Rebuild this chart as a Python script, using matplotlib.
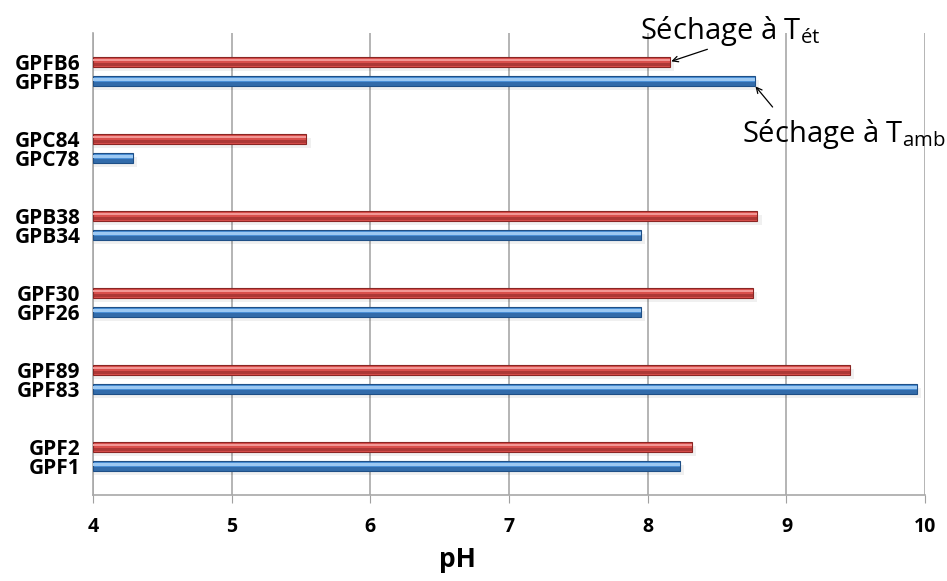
import numpy as np
import matplotlib.pyplot as plt

# Data: pairs bottom-to-top, blue = Tamb, red = Tét
blue_labels = ["GPF1", "GPF83", "GPF26", "GPB34", "GPC78", "GPFB5"]
red_labels = ["GPF2", "GPF89", "GPF30", "GPB38", "GPC84", "GPFB6"]
ph_amb = [8.23, 9.94, 7.95, 7.95, 4.29, 8.77]
ph_et = [8.32, 9.46, 8.76, 8.79, 5.54, 8.16]

plt.rcParams['font.family'] = ['Open Sans', 'DejaVu Sans']
plt.rcParams['mathtext.fontset'] = 'custom'
plt.rcParams['mathtext.rm'] = 'Open Sans'

fig = plt.figure(figsize=(9.47, 5.81), dpi=100)
ax = fig.add_axes([0.098, 0.148, 0.879, 0.795])

y = np.arange(len(blue_labels))
off = 0.128
h = 0.13
left = 4

def fancy_bars(ypos, vals, base, dark, light):
    w = np.array(vals) - left
    # soft shadow
    ax.barh(ypos - 0.05, w + 0.03, height=h, left=left, color='#000000',
            alpha=0.06, zorder=2, linewidth=0)
    ax.barh(ypos, w, height=h, left=left, color=base, edgecolor=dark,
            linewidth=0.8, zorder=3)
    ax.barh(ypos - h * 0.28, w, height=h * 0.38, left=left, color=dark,
            alpha=0.55, zorder=4, linewidth=0)
    ax.barh(ypos + h * 0.18, w, height=h * 0.25, left=left, color=light,
            zorder=4, linewidth=0)

fancy_bars(y - off, ph_amb, '#4a8fd6', '#1f4f86', '#9cc8f2')
fancy_bars(y + off, ph_et, '#d94f4c', '#8a2624', '#f29795')

ax.set_xlim(4, 10)
ax.set_ylim(-0.5, 5.5)

ax.set_yticks(np.concatenate([y - off, y + off]))
ax.set_yticklabels(blue_labels + red_labels, fontsize=15, fontweight='bold')
ax.tick_params(axis='y', length=0, pad=9)

ax.set_xticks(range(4, 11))
ax.tick_params(axis='x', length=6, color='#a0a0a0', labelsize=14, pad=10)
for t in ax.get_xticklabels():
    t.set_fontweight('bold')
ax.set_xlabel('pH', fontsize=19, fontweight='bold', labelpad=6, x=0.4375)

ax.grid(axis='x', color='#a8a8a8', linewidth=1.2, zorder=0)
ax.set_axisbelow(True)
for s in ['top', 'right']:
    ax.spines[s].set_visible(False)
for s in ['left', 'bottom']:
    ax.spines[s].set_color('#a8a8a8')
    ax.spines[s].set_linewidth(1.2)

# annotations
ax.annotate('', xy=(ph_et[5], y[5] + off), xytext=(8.43, 5.29),
            arrowprops=dict(arrowstyle='->', color='black', lw=0.9,
                            shrinkA=0, shrinkB=1), annotation_clip=False)
ax.annotate('', xy=(ph_amb[5], y[5] - off - 0.05), xytext=(8.90, 4.54),
            arrowprops=dict(arrowstyle='->', color='black', lw=0.9,
                            shrinkA=0, shrinkB=1), annotation_clip=False)
ax.text(7.945, 5.42, 'Séchage à T$_{\\mathrm{ét}}$', fontsize=21,
        va='baseline', ha='left', clip_on=False)
ax.text(8.68, 4.085, 'Séchage à T$_{\\mathrm{amb}}$', fontsize=21,
        va='baseline', ha='left', clip_on=False)

fig.savefig('out.png', dpi=100)
